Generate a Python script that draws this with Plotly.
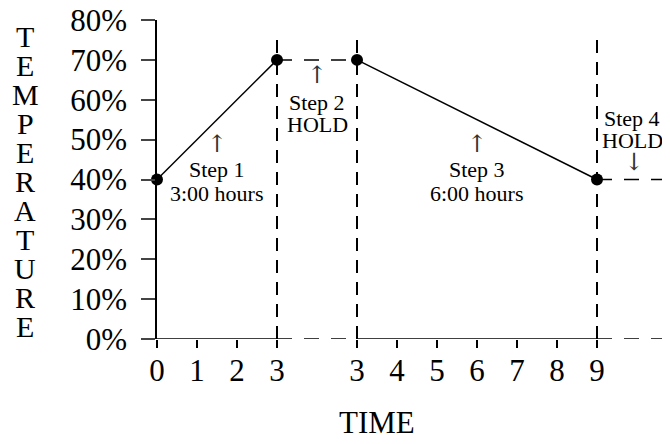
import plotly.graph_objects as go

FONT = "Liberation Serif"

# ---- data ----
tick_positions = [0, 1, 2, 3, 5, 6, 7, 8, 9, 10, 11]
tick_labels = ["0", "1", "2", "3", "3", "4", "5", "6", "7", "8", "9"]
y_ticks = [0, 10, 20, 30, 40, 50, 60, 70, 80]
y_labels = ["0%", "10%", "20%", "30%", "40%", "50%", "60%", "70%", "80%"]

ramp_x = [0, 3]          # Step 1: 0 -> 3 h
ramp_y = [40, 70]
cool_x = [5, 11]         # Step 3: 3 -> 9 h (second time scale)
cool_y = [70, 40]
hold1_x = [3, 5]         # Step 2 hold
hold1_y = [70, 70]
hold2_x = [11, 12.7]     # Step 4 hold
hold2_y = [40, 40]
point_x = [0, 3, 5, 11]
point_y = [40, 70, 70, 40]
divider_x = [3, 5, 11]
divider_top = 77
axis_solid = [[0, 3], [5, 11]]
axis_dashed = [[3, 5], [11, 12.7]]

title_letters = list("TEMPERATURE")

fig = go.Figure()

# vertical dashed dividers
for xv in divider_x:
    fig.add_trace(go.Scatter(x=[xv, xv], y=[0, divider_top], mode="lines",
                             line=dict(color="black", width=2, dash="13px,9px"),
                             hoverinfo="skip", cliponaxis=False))
# x axis pieces
for seg in axis_solid:
    fig.add_trace(go.Scatter(x=seg, y=[0, 0], mode="lines",
                             line=dict(color="black", width=1.5),
                             hoverinfo="skip", cliponaxis=False))
for seg in axis_dashed:
    fig.add_trace(go.Scatter(x=seg, y=[0, 0], mode="lines",
                             line=dict(color="black", width=1.5, dash="15px,12px"),
                             hoverinfo="skip", cliponaxis=False))
# holds
for hx, hy in [(hold1_x, hold1_y), (hold2_x, hold2_y)]:
    fig.add_trace(go.Scatter(x=hx, y=hy, mode="lines",
                             line=dict(color="black", width=1.5, dash="15px,12px"),
                             hoverinfo="skip", cliponaxis=False))
# ramps
for rx, ry in [(ramp_x, ramp_y), (cool_x, cool_y)]:
    fig.add_trace(go.Scatter(x=rx, y=ry, mode="lines",
                             line=dict(color="black", width=1.5),
                             hoverinfo="skip", cliponaxis=False))
# points
fig.add_trace(go.Scatter(x=point_x, y=point_y, mode="markers",
                         marker=dict(color="black", size=12),
                         hoverinfo="skip", cliponaxis=False))

ann_font = dict(family=FONT, size=22, color="black")
arrow_font = dict(family="DejaVu Serif", size=24, color="#333")
labels = [
    (1.5, 48.9, "↑"), (1.5, 42.6, "Step 1"), (1.5, 36.6, "3:00 hours"),
    (4.0, 66.2, "↑"), (4.0, 59.4, "Step 2"), (4.0, 53.7, "HOLD"),
    (8.0, 48.9, "↑"), (8.0, 42.4, "Step 3"), (8.0, 36.6, "6:00 hours"),
    (11.88, 55.4, "Step 4"), (11.88, 49.7, "HOLD"), (11.92, 44.4, "↓"),
]
for ax_, ay_, t in labels:
    is_arrow = t in ("↑", "↓")
    fig.add_annotation(x=ax_, y=ay_, text=t, showarrow=False,
                       font=arrow_font if is_arrow else ann_font,
                       xanchor="center", yanchor="middle")

# vertical stacked y title
for i, ch in enumerate(title_letters):
    fig.add_annotation(x=0, y=1, xref="paper", yref="paper", text=ch,
                       showarrow=False, xanchor="center", yanchor="middle",
                       xshift=-132, yshift=-16 - 29 * i,
                       font=dict(family=FONT, size=30, color="black"))
# x title
fig.add_annotation(x=5.5, y=0, yref="paper", text="TIME", showarrow=False,
                   xanchor="center", yanchor="middle", yshift=-83,
                   font=dict(family=FONT, size=31, color="black"))

fig.update_layout(
    width=662, height=428,
    margin=dict(l=149, r=5, t=12, b=97, autoexpand=False),
    paper_bgcolor="white", plot_bgcolor="white",
    showlegend=False,
    font=dict(family=FONT, size=31, color="black"),
    xaxis=dict(range=[0, 12.7], tickmode="array", tickvals=tick_positions,
               ticktext=tick_labels, ticks="outside", ticklen=8, tickwidth=1.5,
               tickcolor="black", showline=False, showgrid=False, zeroline=False,
               ticklabelstandoff=-4, ticklabeloverflow="allow", automargin=False,
               tickfont=dict(family=FONT, size=31, color="black")),
    yaxis=dict(range=[0, 80], tickmode="array", tickvals=y_ticks,
               ticktext=y_labels, ticks="outside", ticklen=14, tickwidth=1.5,
               tickcolor="#444", showline=True, linecolor="black", linewidth=1.5,
               showgrid=False, zeroline=False, ticklabelstandoff=8,
               ticklabeloverflow="allow", automargin=False,
               tickfont=dict(family=FONT, size=31, color="black")),
)

fig.write_html("out.html")
